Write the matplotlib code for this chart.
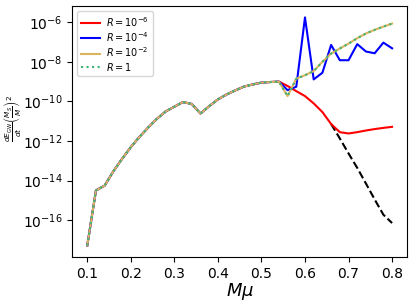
import numpy as np
import matplotlib
matplotlib.use("Agg")
import matplotlib.pyplot as plt

mu = [0.10, 0.12, 0.14, 0.16, 0.18, 0.20, 0.22, 0.24, 0.26, 0.28,
      0.30, 0.32, 0.34, 0.36, 0.38, 0.40, 0.42, 0.44, 0.46, 0.48,
      0.50, 0.52, 0.54, 0.56, 0.58, 0.60, 0.62, 0.64, 0.66, 0.68,
      0.70, 0.72, 0.74, 0.76, 0.78, 0.80]

# common part of all curves, mu = 0.10 .. 0.54
shared = [5.2e-18, 3.2e-15, 5.6e-15, 2.95e-14, 1.26e-13, 4.9e-13, 1.62e-12,
          4.8e-12, 1.32e-11, 3.1e-11, 5.4e-11, 9.3e-11, 7.4e-11, 2.45e-11,
          5.75e-11, 1.26e-10, 2.24e-10, 3.6e-10, 5.6e-10, 7.2e-10, 8.9e-10,
          9.5e-10, 1.0e-9]

# tails, mu = 0.56 .. 0.80
tail_r6 = [6.0e-10, 3.3e-10, 1.86e-10, 7.9e-11, 2.9e-11, 7.2e-12, 2.8e-12,
           2.4e-12, 2.8e-12, 3.4e-12, 4.0e-12, 4.6e-12, 5.2e-12]
tail_r4 = [3.7e-10, 5.5e-10, 1.74e-6, 1.29e-9, 2.8e-9, 7.1e-8, 1.2e-8,
           1.2e-8, 7.8e-8, 3.3e-8, 2.7e-8, 9.3e-8, 4.8e-8]
tail_r2 = [1.86e-10, 1.4e-9, 2.1e-9, 3.4e-9, 1.0e-8, 2.6e-8, 4.7e-8,
           8.3e-8, 1.55e-7, 2.7e-7, 4.1e-7, 6.0e-7, 8.5e-7]
tail_r0 = tail_r2

# black dashed, mu = 0.66 .. 0.80
mu_dash = [0.66, 0.68, 0.70, 0.72, 0.74, 0.76, 0.78, 0.80]
dash = [7.2e-12, 1.35e-12, 2.35e-13, 4.4e-14, 7.1e-15, 1.12e-15, 1.9e-16, 7.2e-17]

plt.rcParams.update({"font.size": 10})

fig = plt.figure(figsize=(4.15, 3.01), dpi=100)
ax = fig.add_axes([0.1735, 0.146, 0.808, 0.834])

ax.plot(mu_dash, dash, color="black", ls="--", lw=1.5)
ax.plot(mu, shared + tail_r6, color="red", lw=1.5, label=r"$R=10^{-6}$")
ax.plot(mu, shared + tail_r4, color="blue", lw=1.5, label=r"$R=10^{-4}$")
ax.plot(mu, shared + tail_r2, color="#dbb45e", lw=1.5, label=r"$R=10^{-2}$")
ax.plot(mu, shared + tail_r0, color="#3cb371", lw=1.5, ls=":", label=r"$R=1$")

ax.set_yscale("log")
ax.set_yticks([1e-16, 1e-14, 1e-12, 1e-10, 1e-8, 1e-6])
ax.minorticks_off()
ax.set_xticks([0.1, 0.2, 0.3, 0.4, 0.5, 0.6, 0.7, 0.8])
ax.set_xlabel(r"$M\mu$", fontsize=13)
ax.xaxis.set_label_coords(0.5, -0.095)
ax.set_ylabel(r"$\frac{dE_{\rm GW}}{dt}\left(\frac{M_S}{M}\right)^2$", fontsize=7.5)
ax.yaxis.set_label_coords(-0.145, 0.55)
ax.legend(loc="upper left", fontsize=7, labelspacing=0.15,
          borderpad=0.4, handletextpad=0.6)

fig.savefig("out.png", dpi=100)
